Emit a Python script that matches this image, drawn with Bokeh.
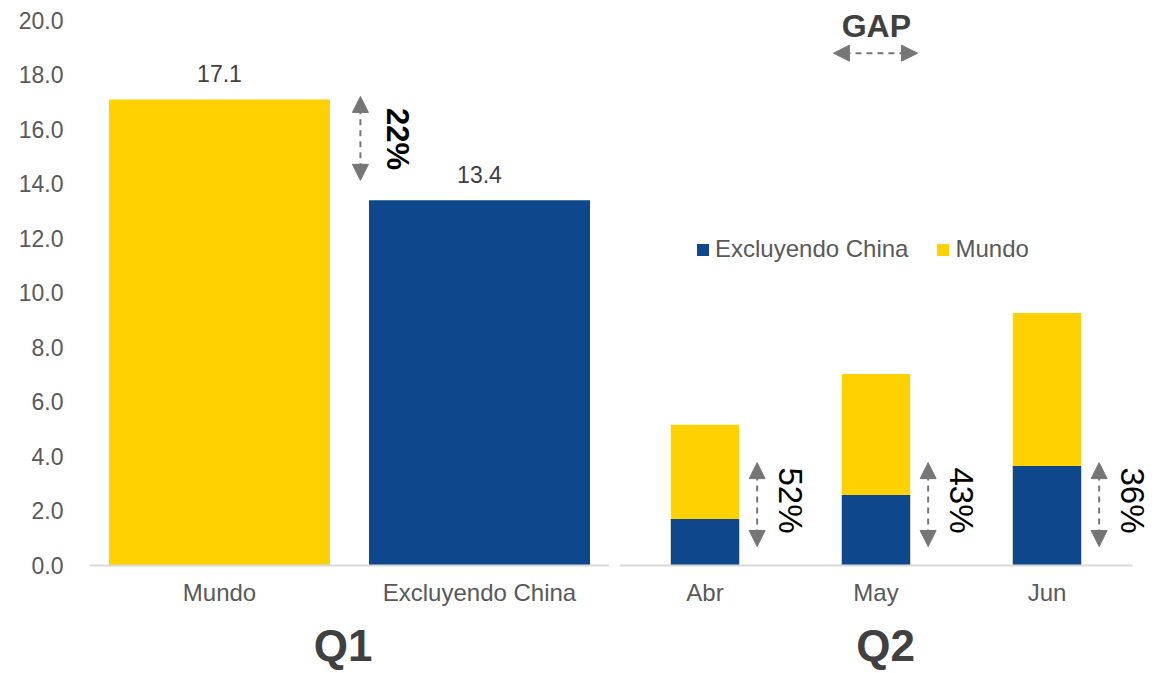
import math
from bokeh.plotting import figure
from bokeh.models import (ColumnDataSource, FixedTicker, Range1d, Arrow, NormalHead,
                          Label, Legend, LegendItem, NumeralTickFormatter)
from bokeh.layouts import row
from bokeh.embed import file_html
from bokeh.resources import INLINE
from bokeh.core.properties import value

# ---------------- data ----------------
q1_categories = ["Mundo", "Excluyendo China"]
q1_values = [17.1, 13.4]
q1_gap_label = "22%"

q2_months = ["Abr", "May", "Jun"]
q2_mundo = [5.15, 7.02, 9.26]
q2_excl_china = [1.69, 2.57, 3.64]
q2_gap_labels = ["52%", "43%", "36%"]

y_ticks = [0, 2, 4, 6, 8, 10, 12, 14, 16, 18, 20]

# ---------------- style / layout ----------------
FONT = "Liberation Sans"
YELLOW = "#FFD100"
BLUE = "#0E478C"
GREY_TXT = "#595959"
DARK_TXT = "#404040"
ARROW_C = "#767676"
q1_colors = [YELLOW, BLUE]

H = 673            # figure height (frame fills it)
Y0_PX = 564.5      # pixel row of value 0
Y20_PX = 20.0      # pixel row of value 20
PPU = (Y0_PX - Y20_PX) / 20.0
Y_START = -(H - Y0_PX) / PPU
Y_END = 20 + Y20_PX / PPU
Q_LABEL_Y = -(645 - Y0_PX) / PPU


def base_fig(width, xr, mb_left, mb_right, bounds):
    p = figure(width=width, height=H, x_range=Range1d(*xr), y_range=Range1d(Y_START, Y_END),
               output_backend="svg", toolbar_location=None,
               min_border_left=mb_left, min_border_right=mb_right,
               min_border_top=0, min_border_bottom=0)
    p.outline_line_color = None
    p.xgrid.visible = False
    p.ygrid.visible = False
    p.background_fill_color = "white"
    p.border_fill_color = "white"
    ax = p.xaxis[0]
    ax.fixed_location = 0
    ax.bounds = bounds
    ax.axis_line_color = "#D9D9D9"
    ax.axis_line_width = 2
    ax.major_tick_line_color = None
    ax.minor_tick_line_color = None
    ax.major_label_text_font = FONT
    ax.major_label_text_font_size = "24px"
    ax.major_label_text_color = GREY_TXT
    ax.major_label_standoff = 8
    return p


def dbl_arrow(x0, y0, x1, y1):
    return Arrow(x_start=x0, y_start=y0, x_end=x1, y_end=y1,
                 start=NormalHead(size=16, fill_color=ARROW_C, line_color=ARROW_C),
                 end=NormalHead(size=16, fill_color=ARROW_C, line_color=ARROW_C),
                 line_color=ARROW_C, line_width=2, line_dash="6 5")


# ---------------- Q1 panel ----------------
q1_x = [i + 0.5 for i in range(len(q1_categories))]
p1 = base_fig(614, (0, len(q1_categories)), 89, 5, (0, len(q1_categories)))
p1.xaxis.ticker = FixedTicker(ticks=q1_x)
p1.xaxis.major_label_overrides = {x: c for x, c in zip(q1_x, q1_categories)}

ya = p1.yaxis[0]
ya.ticker = FixedTicker(ticks=y_ticks)
ya.formatter = NumeralTickFormatter(format="0.0")
ya.axis_line_color = None
ya.major_tick_line_color = None
ya.minor_tick_line_color = None
ya.major_label_text_font = FONT
ya.major_label_text_font_size = "23px"
ya.major_label_text_color = GREY_TXT
ya.major_label_standoff = 20

src1 = ColumnDataSource(dict(x=q1_x, top=q1_values, color=q1_colors,
                             lbl=[f"{v:.1f}" for v in q1_values]))
p1.vbar(x="x", top="top", width=0.85, fill_color="color", line_color=None, source=src1)
p1.text(x="x", y="top", text="lbl", source=src1, text_align="center",
        text_baseline="bottom", y_offset=-17, text_font=value(FONT),
        text_font_size="23px", text_color=DARK_TXT)

# gap arrow between Mundo and Excluyendo China
p1.add_layout(dbl_arrow(1.042, 14.13, 1.042, 17.21))
p1.text(x=[1.185], y=[15.65], text=[q1_gap_label], angle=-math.pi / 2,
        text_align="center", text_baseline="middle", text_font=value(FONT),
        text_font_size="31px", text_font_style="bold", text_color="black")

p1.add_layout(Label(x=0.975, y=Q_LABEL_Y, text="Q1", text_align="center",
                    text_baseline="middle", text_font=FONT, text_font_size="44px",
                    text_font_style="bold", text_color=DARK_TXT))

# ---------------- Q2 panel ----------------
q2_x = [i + 0.5 for i in range(len(q2_months))]
p2_width = 1158 - 614
p2 = base_fig(p2_width, (0, (p2_width - 5) / 171.0), 5, 0, (0, len(q2_months)))
p2.yaxis.visible = False
p2.xaxis.ticker = FixedTicker(ticks=q2_x)
p2.xaxis.major_label_overrides = {x: c for x, c in zip(q2_x, q2_months)}

src2 = ColumnDataSource(dict(x=q2_x, mundo=q2_mundo, excl=q2_excl_china))
r_mundo = p2.vbar(x="x", top="mundo", width=0.40, fill_color=YELLOW, line_color=None, source=src2)
r_excl = p2.vbar(x="x", top="excl", width=0.40, fill_color=BLUE, line_color=None, source=src2)

for xi in q2_x:
    p2.add_layout(dbl_arrow(xi + 0.305, 0.68, xi + 0.305, 3.76))
p2.text(x=[xi + 0.50 for xi in q2_x], y=[2.37] * len(q2_x), text=q2_gap_labels,
        angle=-math.pi / 2, text_align="center", text_baseline="middle",
        text_font=value(FONT), text_font_size="33px", text_color="black")

legend = Legend(items=[LegendItem(label="Excluyendo China", renderers=[r_excl]),
                       LegendItem(label="Mundo", renderers=[r_mundo])],
                orientation="horizontal", location=(76, int(H - 250 - 13)),
                glyph_width=15, glyph_height=15, label_standoff=5, spacing=27,
                padding=0, margin=0, border_line_color=None, background_fill_alpha=0,
                label_text_font=FONT, label_text_font_size="24px",
                label_text_color=GREY_TXT)
p2.add_layout(legend)

# GAP key
p2.add_layout(Label(x=1.502, y=19.78, text="GAP", text_align="center",
                    text_baseline="middle", text_font=FONT, text_font_size="32px",
                    text_font_style="bold", text_color=DARK_TXT))
p2.add_layout(dbl_arrow(1.251, 18.8, 1.743, 18.8))

p2.add_layout(Label(x=1.556, y=Q_LABEL_Y, text="Q2", text_align="center",
                    text_baseline="middle", text_font=FONT, text_font_size="44px",
                    text_font_style="bold", text_color=DARK_TXT))

layout = row(p1, p2)
open("out.html", "w").write(file_html(layout, INLINE))
